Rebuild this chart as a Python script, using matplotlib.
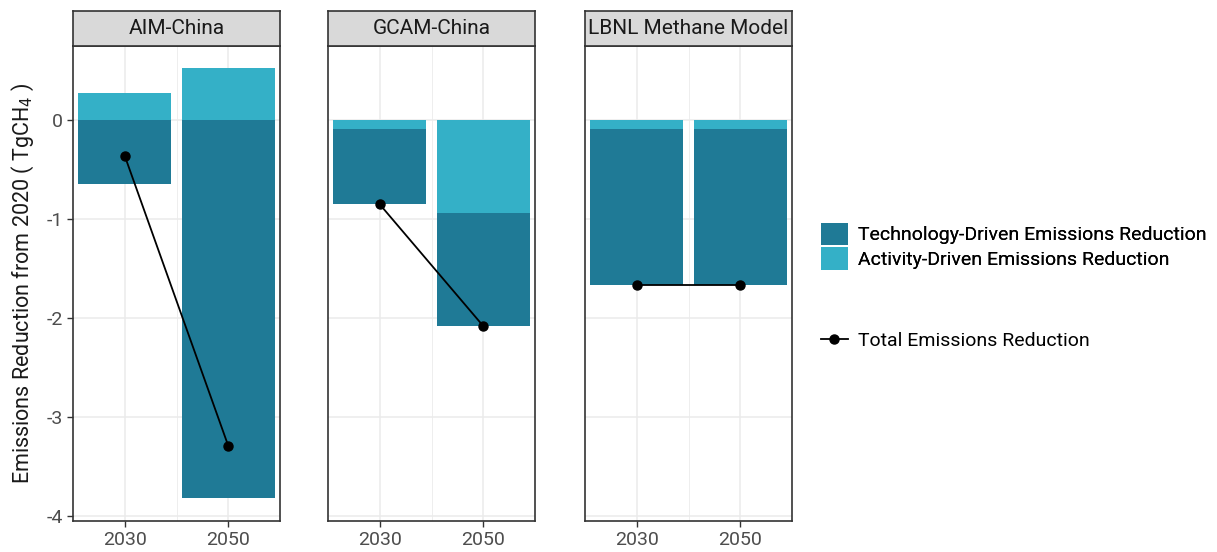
import numpy as np
import matplotlib.pyplot as plt
from matplotlib.patches import Patch
from matplotlib.lines import Line2D

plt.rcParams['font.family'] = ['Roboto', 'DejaVu Sans']
plt.rcParams['axes.unicode_minus'] = False

# emissions change from 2020 (TgCH4), per model and year
models = ['AIM-China', 'GCAM-China', 'LBNL Methane Model']
years = ['2030', '2050']
activity = [[0.28, 0.53], [-0.09, -0.94], [-0.09, -0.09]]
technology = [[-0.64, -3.82], [-0.76, -1.14], [-1.58, -1.58]]

c_tech = '#1f7a96'
c_act = '#34b0c7'
grid_c = '#ebebeb'
frame_c = '#333333'

W, H = 1217, 552
fig = plt.figure(figsize=(W / 100, H / 100), dpi=100)

panel_x = [73, 328, 585]
panel_w = 207
top, bottom = 46, 521
strip_h = 35

ymin, ymax = -4.05, 0.75
x = np.arange(len(years))

for k, name in enumerate(models):
    left = panel_x[k] / W
    ax = fig.add_axes([left, (H - bottom) / H, panel_w / W, (bottom - top) / H])
    ax.set_axisbelow(True)

    # stack positive and negative pieces separately, activity nearest zero
    pos = np.zeros(len(years))
    neg = np.zeros(len(years))
    for vals, col in [(activity[k], c_act), (technology[k], c_tech)]:
        vals = np.array(vals)
        base = np.where(vals >= 0, pos, neg)
        ax.bar(x, vals, bottom=base, width=0.9, color=col, linewidth=0, zorder=2)
        pos = pos + np.where(vals >= 0, vals, 0)
        neg = neg + np.where(vals < 0, vals, 0)

    total = np.array(activity[k]) + np.array(technology[k])
    ax.plot(x, total, color='black', lw=1.3, marker='o', ms=6.5, zorder=3)

    ax.set_xlim(-0.5, 1.5)
    ax.set_ylim(ymin, ymax)
    ax.set_xticks(x)
    ax.set_xticklabels(years)
    ax.set_yticks([0, -1, -2, -3, -4])
    ax.set_xticks([0.5], minor=True)
    ax.grid(True, which='major', color=grid_c, lw=1.1, zorder=0)
    ax.grid(True, which='minor', axis='x', color=grid_c, lw=0.6, zorder=0)
    ax.tick_params(which='minor', length=0)
    ax.tick_params(which='major', length=4, width=1, color=frame_c,
                   labelsize=14, labelcolor='#4d4d4d', pad=3)
    for s in ax.spines.values():
        s.set_color(frame_c)
        s.set_linewidth(1.2)
    if k == 0:
        ax.set_ylabel('Emissions Reduction from 2020 ( TgCH$_4$ )', fontsize=15.5,
                      color='#1a1a1a', labelpad=8)
    else:
        ax.tick_params(axis='y', left=False, labelleft=False)

    # facet strip
    sax = fig.add_axes([left, (H - top) / H, panel_w / W, strip_h / H])
    sax.set_facecolor('#d9d9d9')
    sax.set_xticks([])
    sax.set_yticks([])
    for s in sax.spines.values():
        s.set_color(frame_c)
        s.set_linewidth(1.2)
    sax.text(0.5, 0.5, name, ha='center', va='center', fontsize=15,
             color='#1a1a1a', transform=sax.transAxes)

bar_handles = [Patch(facecolor=c_tech, label='Technology-Driven Emissions Reduction'),
               Patch(facecolor=c_act, label='Activity-Driven Emissions Reduction')]
leg1 = fig.legend(handles=bar_handles, loc='upper left',
                  bbox_to_anchor=(813 / W, 1 - 215 / H), frameon=False,
                  fontsize=14, handlelength=1.4, handleheight=1.4,
                  labelspacing=0.1, handletextpad=0.5, borderaxespad=0)
line_handles = [Line2D([], [], color='black', lw=1.3, marker='o', ms=6.5,
                       label='Total Emissions Reduction')]
leg2 = fig.legend(handles=line_handles, loc='upper left',
                  bbox_to_anchor=(813 / W, 1 - 324 / H), frameon=False,
                  fontsize=14, handlelength=1.4, handletextpad=0.5, borderaxespad=0)
fig.add_artist(leg1)

fig.savefig('out.png', dpi=100)
